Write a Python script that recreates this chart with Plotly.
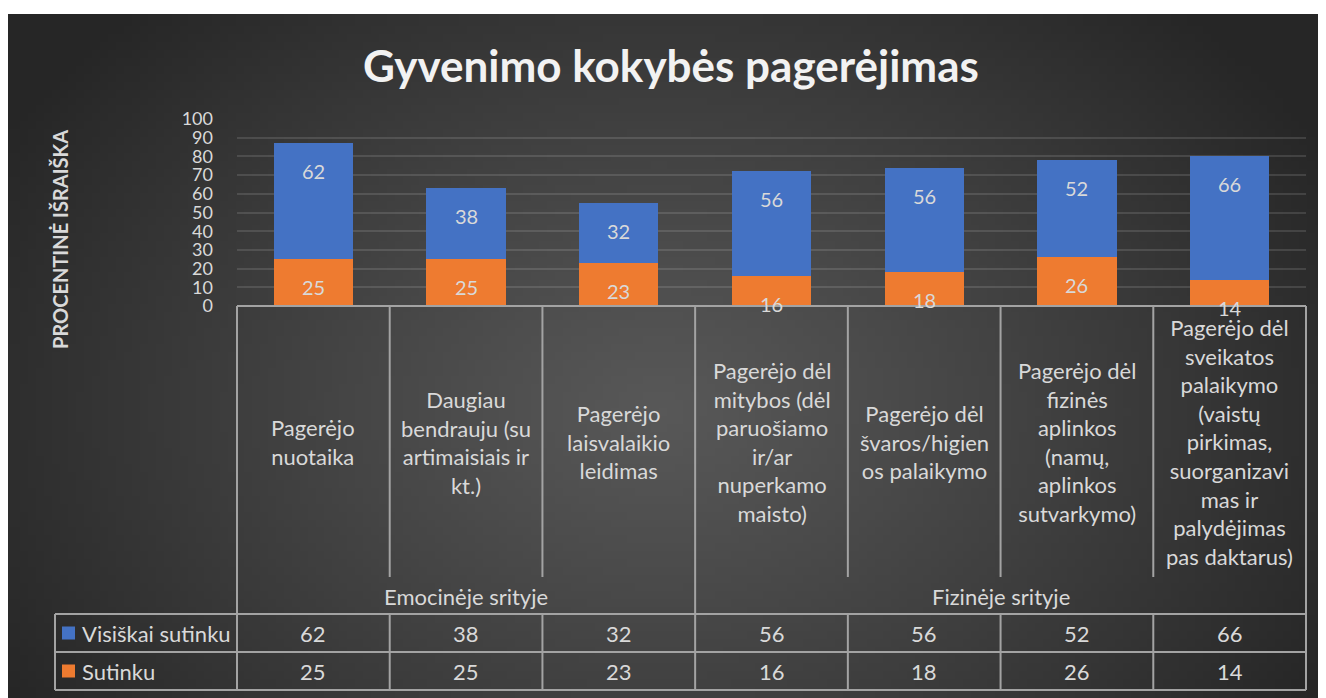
import base64
import struct
import zlib
import plotly.graph_objects as go

# ---------------- data ----------------
categories = [
    "Pagerėjo<br>nuotaika",
    "Daugiau<br>bendrauju (su<br>artimaisiais ir<br>kt.)",
    "Pagerėjo<br>laisvalaikio<br>leidimas",
    "Pagerėjo dėl<br>mitybos (dėl<br>paruošiamo<br>ir/ar<br>nuperkamo<br>maisto)",
    "Pagerėjo dėl<br>švaros/higien<br>os palaikymo",
    "Pagerėjo dėl<br>fizinės<br>aplinkos<br>(namų,<br>aplinkos<br>sutvarkymo)",
    "Pagerėjo dėl<br>sveikatos<br>palaikymo<br>(vaistų<br>pirkimas,<br>suorganizavi<br>mas ir<br>palydėjimas<br>pas daktarus)",
]
groups = ["Emocinėje srityje", "Fizinėje srityje"]
group_spans = [(0, 3), (3, 7)]
series_names = ["Visiškai sutinku", "Sutinku"]
visiskai_sutinku = [62, 38, 32, 56, 56, 52, 66]
sutinku = [25, 25, 23, 16, 18, 26, 14]
y_ticks = [0, 10, 20, 30, 40, 50, 60, 70, 80, 90, 100]
title_text = "Gyvenimo kokybės pagerėjimas"
y_title = "PROCENTINĖ IŠRAIŠKA"

# ---------------- style ----------------
BLUE = "#4472c4"
ORANGE = "#ee7b30"
TXT = "#d9d9d9"
LINE = "#a3a3a3"
FONT = "Lato"

FIG_W, FIG_H = 1318, 690
ORIG_X, ORIG_Y = 8, 8          # page position of the figure
PX_L, PX_R, PY_T, PY_B = 237, 1306, 119, 306   # plot area in page pixels
N = len(categories)


def px(x):
    return (x - PX_L) / (PX_R - PX_L)


def py(y):
    return (PY_B - y) / (PY_B - PY_T)


# ---------------- background gradient image ----------------
def make_gradient_png(w, h, x0, y0, x1, y1):
    cx, cy, rx, ry = 660.0, 410.0, 760.0, 560.0
    inner, outer = 88, 38
    rows = []
    for j in range(h):
        pyy = y0 + (j + 0.5) * (y1 - y0) / h
        row = bytearray(b"\x00")
        for i in range(w):
            pxx = x0 + (i + 0.5) * (x1 - x0) / w
            d = (((pxx - cx) / rx) ** 2 + ((pyy - cy) / ry) ** 2) ** 0.5
            t = min(1.0, d)
            v = int(round(inner + (outer - inner) * t ** 1.1))
            row += bytes((v, v, v))
        rows.append(bytes(row))
    raw = b"".join(rows)

    def chunk(tag, data):
        return (struct.pack(">I", len(data)) + tag + data
                + struct.pack(">I", zlib.crc32(tag + data) & 0xFFFFFFFF))

    png = (b"\x89PNG\r\n\x1a\n"
           + chunk(b"IHDR", struct.pack(">IIBBBBB", w, h, 8, 2, 0, 0, 0))
           + chunk(b"IDAT", zlib.compress(raw, 9))
           + chunk(b"IEND", b""))
    return "data:image/png;base64," + base64.b64encode(png).decode()


BG_X0, BG_Y0, BG_X1, BG_Y1 = 8, 14, 1326, 698
bg_src = make_gradient_png(165, 86, BG_X0, BG_Y0, BG_X1, BG_Y1)

# ---------------- figure ----------------
fig = go.Figure()
fig.add_trace(go.Bar(x=categories, y=sutinku, name=series_names[1],
                     marker=dict(color=ORANGE, line=dict(width=0)),
                     hoverinfo="skip"))
fig.add_trace(go.Bar(x=categories, y=visiskai_sutinku, name=series_names[0],
                     marker=dict(color=BLUE, line=dict(width=0)),
                     hoverinfo="skip"))

annotations = []
shapes = []

# bar value labels (inside end)
for i, c in enumerate(categories):
    annotations.append(dict(x=c, y=sutinku[i], xref="x", yref="y", text=str(sutinku[i]),
                            showarrow=False, yshift=-28, yanchor="middle",
                            font=dict(family=FONT, size=20, color=TXT)))
    annotations.append(dict(x=c, y=sutinku[i] + visiskai_sutinku[i], xref="x", yref="y",
                            text=str(visiskai_sutinku[i]),
                            showarrow=False, yshift=-28, yanchor="middle",
                            font=dict(family=FONT, size=20, color=TXT)))

# title
annotations.append(dict(x=px(671), y=py(65), xref="paper", yref="paper", text=title_text,
                        showarrow=False, xanchor="center", yanchor="middle",
                        font=dict(family=FONT, size=44, color="#f2f2f2", weight="bold")))
# y axis title
annotations.append(dict(x=px(60), y=py(240), xref="paper", yref="paper", text=y_title,
                        showarrow=False, textangle=-90, xanchor="center", yanchor="middle",
                        font=dict(family=FONT, size=20, color=TXT, weight="bold")))

# table: category labels
for i, c in enumerate(categories):
    annotations.append(dict(x=(i + 0.5) / N, y=py(442), xref="paper", yref="paper", text=c,
                            showarrow=False, xanchor="center", yanchor="middle",
                            font=dict(family=FONT, size=22, color=TXT)))
# group labels
for g, (a, b) in zip(groups, group_spans):
    annotations.append(dict(x=(a + b) / 2 / N, y=py(596), xref="paper", yref="paper", text=g,
                            showarrow=False, xanchor="center", yanchor="middle",
                            font=dict(family=FONT, size=22, color=TXT)))
# data rows
row_y = [633, 671]
row_vals = [visiskai_sutinku, sutinku]
row_cols = [BLUE, ORANGE]
for r in range(2):
    for i in range(N):
        annotations.append(dict(x=(i + 0.5) / N, y=py(row_y[r]), xref="paper", yref="paper",
                                text=str(row_vals[r][i]), showarrow=False,
                                xanchor="center", yanchor="middle",
                                font=dict(family=FONT, size=22, color=TXT)))
    annotations.append(dict(x=px(80), y=py(row_y[r]), xref="paper", yref="paper",
                            text=series_names[r], showarrow=False,
                            xanchor="left", yanchor="middle",
                            font=dict(family=FONT, size=22, color=TXT)))
    shapes.append(dict(type="rect", xref="paper", yref="paper",
                       x0=px(62), x1=px(75), y0=py(row_y[r] - 6.5), y1=py(row_y[r] + 6.5),
                       fillcolor=row_cols[r], line=dict(width=0)))


def hline(x0, x1, y):
    shapes.append(dict(type="line", xref="paper", yref="paper", x0=px(x0), x1=px(x1),
                       y0=py(y), y1=py(y), line=dict(color=LINE, width=2)))


def vline_p(xp, y0, y1):
    shapes.append(dict(type="line", xref="paper", yref="paper", x0=xp, x1=xp,
                       y0=py(y0), y1=py(y1), line=dict(color=LINE, width=2)))


hline(PX_L, PX_R, 306)
hline(55, PX_R, 614)
hline(55, PX_R, 652)
hline(55, PX_R, 690)
vline_p(px(55), 614, 690)
group_edges = {a for a, b in group_spans} | {b for a, b in group_spans}
for k in range(N + 1):
    if k in group_edges:
        vline_p(k / N, 306, 690)
    else:
        vline_p(k / N, 306, 577)
        vline_p(k / N, 614, 690)

images = [dict(source=bg_src, xref="paper", yref="paper",
               x=px(BG_X0), y=py(BG_Y0), sizex=px(BG_X1) - px(BG_X0),
               sizey=py(BG_Y0) - py(BG_Y1), xanchor="left", yanchor="top",
               sizing="stretch", layer="below")]

fig.update_layout(
    width=FIG_W, height=FIG_H,
    margin=dict(l=PX_L - ORIG_X, r=FIG_W - (PX_R - ORIG_X),
                t=PY_T - ORIG_Y, b=FIG_H - (PY_B - ORIG_Y), pad=0),
    paper_bgcolor="white", plot_bgcolor="rgba(0,0,0,0)",
    barmode="stack", bargap=0.48, showlegend=False,
    xaxis=dict(range=[-0.5, N - 0.5], showticklabels=False, showgrid=False,
               zeroline=False, showline=False, ticks=""),
    yaxis=dict(range=[0, 100], tickvals=y_ticks, ticktext=[str(v) for v in y_ticks],
               showgrid=True, gridcolor="rgba(255,255,255,0.12)", gridwidth=2,
               zeroline=False, showline=False, ticks="", ticklabelstandoff=23,
               tickfont=dict(family=FONT, size=18, color=TXT)),
    annotations=annotations, shapes=shapes, images=images,
)

fig.write_html("out.html", config={"displayModeBar": False},
               post_script="document.body.style.overflow='hidden';")
